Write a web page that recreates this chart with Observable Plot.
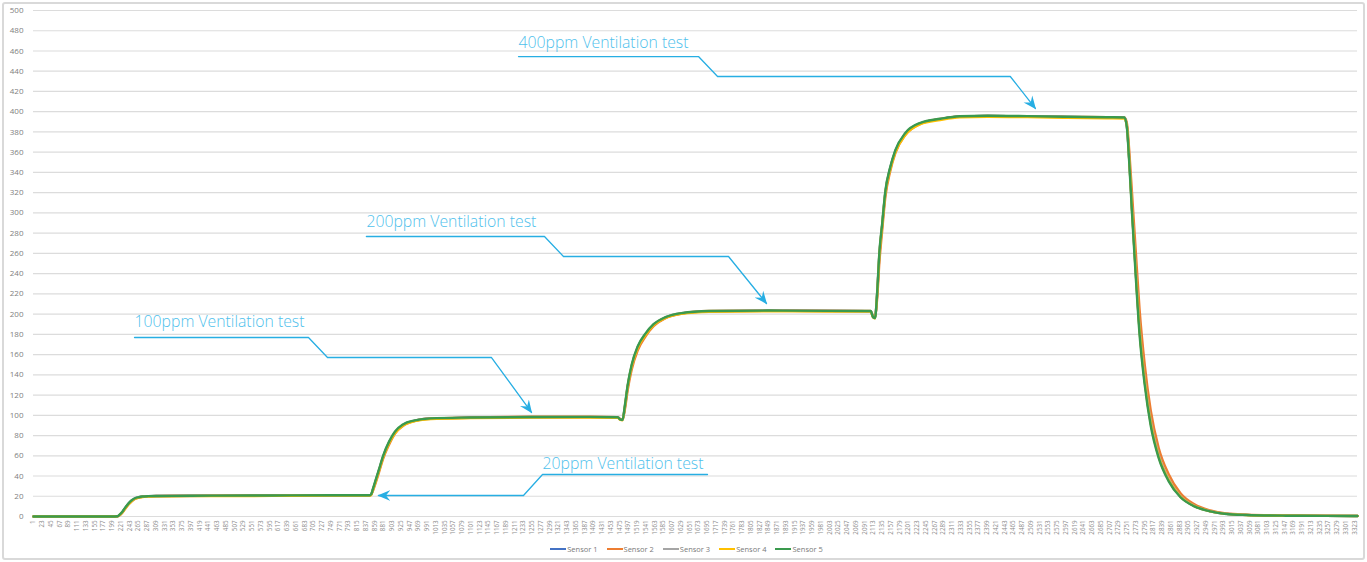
<!DOCTYPE html>
<html><head><meta charset="utf-8">
<script src="https://cdn.jsdelivr.net/npm/d3@7"></script>
<script src="https://cdn.jsdelivr.net/npm/@observablehq/plot@0.6"></script>
<style>
html,body{margin:0;padding:0;background:#fff;}
#wrap{position:relative;width:1367px;height:562px;overflow:hidden;}
#frame{position:absolute;left:2px;top:2px;width:1359px;height:554px;border:2px solid #d9d9d9;border-radius:3px;}
#chart{position:absolute;left:0;top:0;}
#legend{position:absolute;top:544px;left:0;width:1367px;display:flex;justify-content:center;gap:9px;font-family:"Open Sans";font-size:7.5px;color:#7a7a7a;line-height:10px;padding-left:6px;box-sizing:border-box;}
#legend .item{display:flex;align-items:center;gap:1px;}
#legend .sw{display:inline-block;width:16px;height:2px;}
</style></head>
<body>
<div id="wrap"><div id="frame"></div><div id="chart"></div><div id="legend"></div></div>
<script>
const sensors = ["Sensor 1","Sensor 2","Sensor 3","Sensor 4","Sensor 5"];
const sensorColors = ["#4472c4","#ed7d31","#a5a5a5","#ffc000","#3a9a4e"];
const yTicks = [0,20,40,60,80,100,120,140,160,180,200,220,240,260,280,300,320,340,360,380,400,420,440,460,480,500];
const xTicks = [1,23,45,67,89,111,133,155,177,199,221,243,265,287,309,331,353,375,397,419,441,463,485,507,529,551,573,595,617,639,661,683,705,727,749,771,793,815,837,859,881,903,925,947,969,991,1013,1035,1057,1079,1101,1123,1145,1167,1189,1211,1233,1255,1277,1299,1321,1343,1365,1387,1409,1431,1453,1475,1497,1519,1541,1563,1585,1607,1629,1651,1673,1695,1717,1739,1761,1783,1805,1827,1849,1871,1893,1915,1937,1959,1981,2003,2025,2047,2069,2091,2113,2135,2157,2179,2201,2223,2245,2267,2289,2311,2333,2355,2377,2399,2421,2443,2465,2487,2509,2531,2553,2575,2597,2619,2641,2663,2685,2707,2729,2751,2773,2795,2817,2839,2861,2883,2905,2927,2949,2971,2993,3015,3037,3059,3081,3103,3125,3147,3169,3191,3213,3235,3257,3279,3301,3323];

const sampleIndex = [1,100,200,212,218,225,232,240,248,256,
  265,275,290,310,350,450,550,650,750,846,
  850,855,862,870,880,895,910,930,960,1000,
  1100,1250,1400,1470,1476,1482,1488,1495,1505,1520,
  1540,1560,1590,1630,1700,1850,2000,2106,2112,2117,
  2122,2128,2135,2143,2155,2168,2193,2231,2281,2330,
  2400,2500,2600,2700,2744,2750,2756,2763,2772,2782,
  2795,2810,2830,2855,2885,2920,2960,3000,3050,3150,
  3250,3330];

const sensor1 = [0,0,0,0.2,1.8,4.8,8.8,12.8,15.8,17.9,
  18.9,19.6,20,20.2,20.3,20.5,20.6,20.8,20.9,20.9,
  21.8,27.5,36,46,59,73,83,90.5,94.8,96.8,
  97.6,98.1,98.2,97.9,96.1,95.6,108,128,148,167,
  180,189,196.5,200.6,202.7,203.2,203,202.8,197.3,196.3,
  218,259,288,320,344,361,378,388.5,392.6,395.2,
  395.7,395.3,394.8,394.3,394.1,386,353,304,245,185,
  134,93,60,36,19.5,10.3,5.2,2.6,1.6,0.8,
  0.6,0.5];
const sensor2 = [0,0,0,0.1,1.3,4,7.8,11.8,15,17.3,
  18.6,19.5,20,20.3,20.5,20.6,20.8,21,21.1,21.1,
  21.5,26,34,44,57,71,82,89.5,94.5,96.8,
  97.9,98.5,98.6,98.2,96.4,95.8,106,125,145,164,
  178,188,196,200.5,203,203.6,203.4,203.2,197.6,196.2,
  214,252,283,316,341,359,377,388,392.8,395.4,
  395.8,395.4,394.9,394.6,394.4,389,362,320,265,205,
  150,105,68,42,23,12,6,3,1.8,1,
  0.7,0.6];
const sensor3 = [0,0,0,0.2,1.7,4.6,8.5,12.5,15.6,17.7,
  18.8,19.5,19.9,20.1,20.2,20.4,20.5,20.7,20.8,20.8,
  21.6,27,36,46,59,73,83,90.5,94.6,96.6,
  97.5,98,98.1,97.8,95.9,95.3,109,129,149,167,
  180,189.5,196.7,200.8,202.8,203.3,203,202.8,197,196,
  219,260,289,321,344,361,378,388.6,392.7,395.3,
  395.8,395.4,394.8,394.3,394.1,386,354,305,247,187,
  136,95,61,37,20,10.5,5.3,2.7,1.6,0.8,
  0.6,0.5];
const sensor4 = [0,0,0,0.2,1.6,4.4,8.2,12.2,15.3,17.5,
  18.6,19.3,19.7,19.9,20,20.2,20.3,20.5,20.6,20.6,
  21.4,26.8,35.5,45.5,58.5,72.5,82.5,90,94.2,96.3,
  97.2,97.7,97.8,97.5,95.7,95.1,108.5,128.5,148.5,166.5,
  179.5,189,196.2,200.3,202.3,202.8,202.6,202.4,196.8,195.8,
  218,259,288,320,343,360,377,387.8,391.8,394.4,
  395,394.6,394,393.5,393.3,386,353,303,244,184,
  133,92,59,36,19.5,10.2,5.1,2.6,1.5,0.8,
  0.6,0.5];
const sensor5 = [0,0,0,0.3,2,5,9,13,16,18,
  19,19.7,20.1,20.3,20.4,20.6,20.7,20.9,21,21,
  22,28,37,47,60,74,84,91,95,97,
  97.8,98.3,98.4,98,96,95.5,110,130,150,168,
  181,190,197,201,203,203.5,203.2,203,197,196,
  220,262,290,322,345,362,379,389,393,395.5,
  396,395.6,395,394.5,394.3,385,350,300,240,180,
  130,90,58,35,19,10,5,2.5,1.5,0.8,
  0.6,0.5];

// annotations (in data units: sample index, ppm)
const annoLabels = ["400ppm Ventilation test","200ppm Ventilation test","100ppm Ventilation test","20ppm Ventilation test"];
const annoTextIndex = [1220.5, 838, 255, 1280.8];
const annoTextPpm = [463.4, 285.6, 186.8, 47.4];
const annoPathIndex = [
  [1220.5,1673,1721,2457,2520],
  [838,1285.8,1333.6,1748.5,1844],
  [255,692.4,740.2,1152.6,1253.1],
  [1695.7,1280.8,1233,868.4]
];
const annoPathPpm = [
  [454.5,454.5,434.8,434.8,403.2],
  [276.7,276.7,256.9,256.9,210.5],
  [176.9,176.9,157.1,157.1,102.8],
  [41.5,41.5,20.75,20.75]
];

const seriesValues = [sensor1, sensor2, sensor3, sensor4, sensor5];
const rows = [];
sensors.forEach((s, k) => sampleIndex.forEach((ix, i) => rows.push({sensor: s, index: ix, value: seriesValues[k][i]})));
const annoRows = [];
annoPathIndex.forEach((xs, a) => xs.forEach((x, i) => annoRows.push({id: a, index: x, ppm: annoPathPpm[a][i]})));
const annoText = annoLabels.map((t, i) => ({text: t, index: annoTextIndex[i], ppm: annoTextPpm[i]}));

const cyan = "#27aee3";
const chart = Plot.plot({
  width: 1367, height: 540,
  marginLeft: 33, marginRight: 10, marginTop: 10, marginBottom: 24,
  style: {fontFamily: "Open Sans", background: "transparent", overflow: "visible"},
  x: {domain: [1, 3330], axis: null, label: null},
  y: {domain: [0, 500], axis: null, label: null},
  color: {domain: sensors, range: sensorColors},
  marks: [
    Plot.gridY(yTicks, {stroke: "#dcdcdc", strokeOpacity: 1, strokeWidth: 1.2}),
    Plot.axisY(yTicks, {tickSize: 0, tickPadding: 10, fontSize: 8, color: "#808080", label: null, tickFormat: d => String(d)}),
    Plot.axisX(xTicks, {tickSize: 0, tickPadding: 4, tickRotate: -90, fontSize: 6.2, color: "#8c8c8c", label: null, tickFormat: d => String(d)}),
    Plot.line(rows, {x: "index", y: "value", z: "sensor", stroke: "sensor", strokeWidth: 2.4, curve: "monotone-x"}),
    Plot.line(annoRows, {x: "index", y: "ppm", z: "id", stroke: cyan, strokeWidth: 1.3, markerEnd: "arrow"}),
    Plot.text(annoText, {x: "index", y: "ppm", text: "text", textAnchor: "start", lineAnchor: "bottom", fontSize: 15.8, fill: "#4fc1ec", fontWeight: 300, fontFamily: "Open Sans"})
  ]
});
chart.querySelectorAll("marker").forEach(m => {
  m.setAttribute("viewBox", "-12 -6 13 12");
  m.setAttribute("markerWidth", 13);
  m.setAttribute("markerHeight", 12);
  m.setAttribute("markerUnits", "userSpaceOnUse");
  m.setAttribute("refX", 0);
  m.setAttribute("refY", 0);
  m.setAttribute("fill", cyan);
  m.setAttribute("stroke", "none");
  while (m.firstChild) m.removeChild(m.firstChild);
  const p = document.createElementNS("http://www.w3.org/2000/svg", "path");
  p.setAttribute("d", "M1,0L-12,-5.5L-7.5,0L-12,5.5Z");
  m.appendChild(p);
});
document.getElementById("chart").appendChild(chart);

const legend = document.getElementById("legend");
sensors.forEach((s, i) => {
  const it = document.createElement("span"); it.className = "item";
  const sw = document.createElement("span"); sw.className = "sw"; sw.style.background = sensorColors[i];
  const tx = document.createElement("span"); tx.textContent = s;
  it.appendChild(sw); it.appendChild(tx); legend.appendChild(it);
});
</script>
</body></html>
